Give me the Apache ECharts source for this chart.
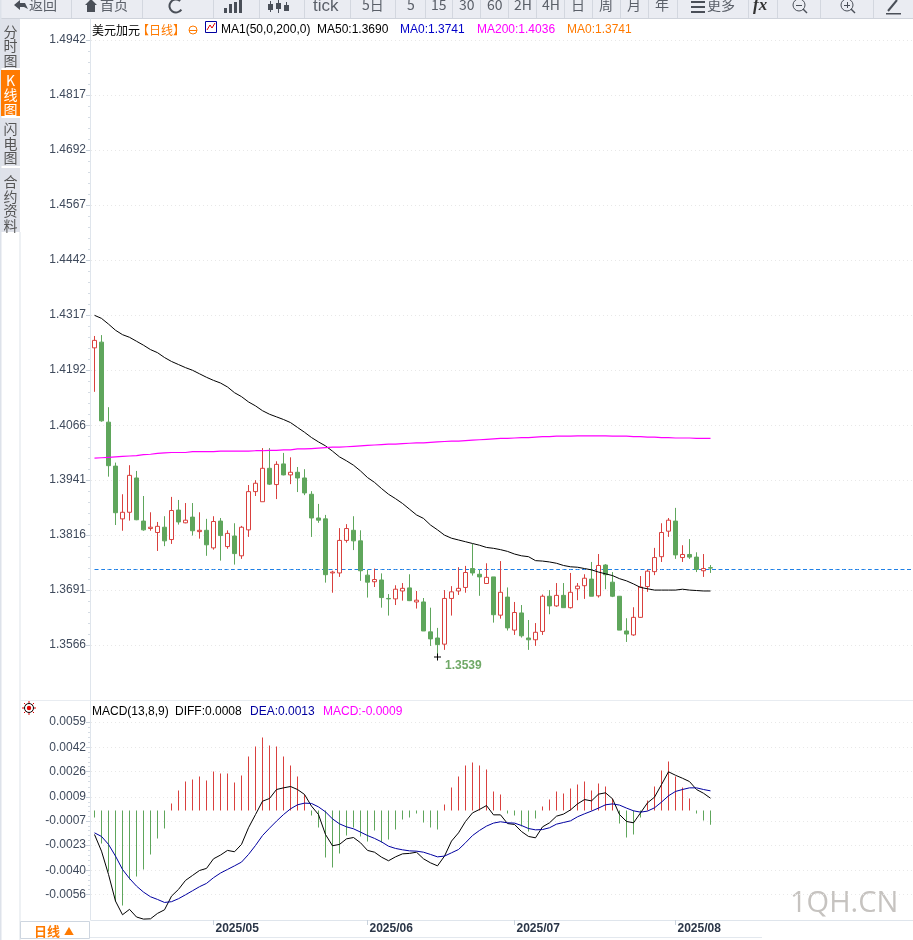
<!DOCTYPE html>
<html>
<head>
<meta charset="utf-8">
<style>
  html, body { margin: 0; padding: 0; background: #fff; overflow: hidden; }
  /* a bit wider than the window: the last empty bands run off the right edge */
  #chart { width: 920px; height: 940px; }
</style>
<script src="https://cdn.jsdelivr.net/npm/echarts@6/dist/echarts.min.js"></script>
</head>
<body>
<div id="chart"></div>
<script>
const aprDays = ['08','09','10','11','14','15','16','17','18','21','22','23','24','25','28','29','30'];
const mayDays = ['01','02','05','06','07','08','09','12','13','14','15','16','19','20','21','22','23','26','27','28','29','30'];
const junDays = ['02','03','04','05','06','09','10','11','12','13','16','17','18','19','20','23','24','25','26','27','30'];
const julDays = ['01','02','03','04','07','08','09','10','11','14','15','16','17','18','21','22','23','24','25','28','29','30','31'];
const augDays = ['01','04','05','06','07','08'];

// open, close, low, high
const kline = [
  [1.4242,1.4259,1.4142,1.4269],[1.4255,1.4076,1.4074,1.4271],[1.4073,1.3974,1.3949,1.4107],[1.3973,1.3867,1.3839,1.3981],
  [1.3853,1.3868,1.3826,1.3909],[1.3868,1.3952,1.3849,1.3975],[1.3946,1.3851,1.3850,1.3962],[1.3848,1.3828,1.3826,1.3905],
  [1.3831,1.3834,1.3826,1.3868],[1.3822,1.3836,1.3780,1.3846],[1.3834,1.3803,1.3791,1.3859],[1.3806,1.3872,1.3796,1.3903],
  [1.3873,1.3846,1.3840,1.3896],[1.3844,1.3850,1.3843,1.3889],[1.3857,1.3826,1.3815,1.3889],[1.3824,1.3827,1.3808,1.3868],
  [1.3827,1.3794,1.3769,1.3853],[1.3787,1.3847,1.3783,1.3859],[1.3848,1.3815,1.3758,1.3855],[1.3790,1.3820,1.3785,1.3827],
  [1.3814,1.3774,1.3749,1.3843],[1.3769,1.3834,1.3762,1.3837],[1.3828,1.3915,1.3812,1.3930],[1.3915,1.3934,1.3905,1.3941],
  [1.3892,1.3968,1.3892,1.4014],[1.3968,1.3932,1.3930,1.4014],[1.3931,1.3977,1.3898,1.3984],[1.3978,1.3953,1.3952,1.4003],
  [1.3953,1.3959,1.3932,1.3993],[1.3959,1.3946,1.3914,1.3971],[1.3946,1.3912,1.3907,1.3966],[1.3909,1.3855,1.3812,1.3916],
  [1.3855,1.3850,1.3844,1.3887],[1.3853,1.3726,1.3708,1.3862],[1.3730,1.3732,1.3685,1.3735],[1.3730,1.3804,1.3721,1.3832],
  [1.3804,1.3831,1.3799,1.3841],[1.3827,1.3803,1.3782,1.3859],[1.3803,1.3735,1.3712,1.3827],[1.3725,1.3709,1.3674,1.3737],
  [1.3710,1.3715,1.3698,1.3740],[1.3714,1.3674,1.3651,1.3729],[1.3672,1.3671,1.3633,1.3682],[1.3671,1.3693,1.3657,1.3702],
  [1.3689,1.3695,1.3667,1.3707],[1.3696,1.3667,1.3666,1.3727],[1.3664,1.3668,1.3649,1.3689],[1.3664,1.3598,1.3598,1.3673],
  [1.3596,1.3580,1.3564,1.3651],[1.3582,1.3567,1.3539,1.3605],[1.3568,1.3672,1.3555,1.3691],[1.3672,1.3687,1.3633,1.3700],
  [1.3689,1.3695,1.3680,1.3743],[1.3697,1.3731,1.3685,1.3746],[1.3740,1.3730,1.3724,1.3796],[1.3727,1.3721,1.3678,1.3737],
  [1.3706,1.3720,1.3705,1.3752],[1.3721,1.3635,1.3617,1.3721],[1.3634,1.3686,1.3626,1.3757],[1.3675,1.3605,1.3599,1.3697],
  [1.3600,1.3640,1.3589,1.3664],[1.3639,1.3587,1.3583,1.3657],[1.3582,1.3578,1.3555,1.3623],[1.3578,1.3595,1.3564,1.3616],
  [1.3597,1.3677,1.3589,1.3681],[1.3677,1.3655,1.3636,1.3691],[1.3655,1.3679,1.3653,1.3707],[1.3679,1.3651,1.3651,1.3707],
  [1.3651,1.3686,1.3649,1.3730],[1.3694,1.3700,1.3668,1.3707],[1.3701,1.3718,1.3671,1.3727],[1.3716,1.3677,1.3677,1.3755],
  [1.3678,1.3747,1.3674,1.3773],[1.3748,1.3726,1.3693,1.3750],[1.3709,1.3677,1.3675,1.3732],[1.3677,1.3600,1.3600,1.3677],
  [1.3598,1.3591,1.3573,1.3627],[1.3589,1.3629,1.3587,1.3652],[1.3629,1.3698,1.3628,1.3723],[1.3699,1.3734,1.3687,1.3738],
  [1.3733,1.3765,1.3725,1.3787],[1.3767,1.3822,1.3755,1.3843],[1.3825,1.3850,1.3812,1.3855],[1.3848,1.3771,1.3762,1.3878],
  [1.3765,1.3772,1.3755,1.3793],[1.3772,1.3766,1.3762,1.3807],[1.3766,1.3738,1.3732,1.3777],[1.3735,1.3740,1.3721,1.3773],
  [1.3742,1.3741,1.3730,1.3748]
];

const ma50 = [
  1.4316,1.4309,1.4296,1.4282,1.4272,1.4266,1.4257,1.4248,1.4238,1.4231,1.4220,1.4211,1.4204,1.4197,1.4191,1.4183,1.4175,1.4168,
  1.4162,1.4153,1.4140,1.4131,1.4119,1.4110,1.4099,1.4091,1.4085,1.4079,1.4072,1.4061,1.4050,1.4038,1.4028,1.4019,1.4007,1.3994,
  1.3985,1.3975,1.3962,1.3947,1.3936,1.3922,1.3909,1.3899,1.3888,1.3875,1.3862,1.3854,1.3839,1.3828,1.3816,1.3809,1.3805,1.3801,
  1.3797,1.3793,1.3788,1.3786,1.3783,1.3779,1.3773,1.3769,1.3767,1.3758,1.3757,1.3755,1.3752,1.3747,1.3744,1.3743,1.3740,1.3737,
  1.3732,1.3728,1.3724,1.3717,1.3712,1.3705,1.3697,1.3694,1.3691,1.3691,1.3691,1.3691,1.3693,1.3691,1.3690,1.3689,1.3689
];

const ma200 = [
  1.3991,1.3992,1.3993,1.3994,1.3995,1.3996,1.3997,1.3999,1.4000,1.4002,1.4003,1.4004,1.4004,1.4004,1.4006,1.4006,1.4006,1.4006,
  1.4007,1.4007,1.4007,1.4007,1.4007,1.4008,1.4008,1.4009,1.4009,1.4010,1.4010,1.4012,1.4012,1.4013,1.4014,1.4015,1.4016,1.4016,
  1.4017,1.4018,1.4019,1.4020,1.4021,1.4022,1.4023,1.4023,1.4024,1.4025,1.4026,1.4026,1.4027,1.4028,1.4029,1.4030,1.4030,1.4031,
  1.4032,1.4033,1.4034,1.4035,1.4036,1.4036,1.4037,1.4038,1.4038,1.4039,1.4040,1.4040,1.4041,1.4041,1.4041,1.4042,1.4042,1.4042,
  1.4042,1.4042,1.4041,1.4041,1.4041,1.4040,1.4040,1.4039,1.4039,1.4038,1.4038,1.4037,1.4037,1.4037,1.4036,1.4036,1.4036
];

const macdBars = [
  -0.00047,-0.00220,-0.00406,-0.00606,-0.00633,-0.00460,-0.00440,-0.00393,-0.00293,-0.00186,-0.00120,0.00047,0.00133,0.00193,0.00206,
  0.00226,0.00200,0.00260,0.00246,0.00246,0.00186,0.00233,0.00360,0.00426,0.00486,0.00433,0.00426,0.00360,0.00300,0.00226,0.00107,
  -0.00033,-0.00113,-0.00313,-0.00380,-0.00286,-0.00167,-0.00113,-0.00173,-0.00206,-0.00133,-0.00213,-0.00193,-0.00127,-0.00060,-0.00047,
  -0.00020,-0.00080,-0.00113,-0.00127,0.00040,0.00153,0.00226,0.00300,0.00320,0.00300,0.00273,0.00127,0.00107,-0.00020,-0.00033,-0.00107,
  -0.00140,-0.00053,0.00027,0.00073,0.00127,0.00113,0.00147,0.00173,0.00193,0.00133,0.00180,0.00160,0.00080,-0.00087,-0.00180,-0.00160,
  -0.00047,0.00067,0.00160,0.00266,0.00326,0.00226,0.00153,0.00080,-0.00020,-0.00067,-0.00095
];

const diff = [
  -0.00160,-0.00271,-0.00426,-0.00604,-0.00695,-0.00659,-0.00710,-0.00724,-0.00722,-0.00686,-0.00662,-0.00571,-0.00526,-0.00466,-0.00433,
  -0.00400,-0.00386,-0.00322,-0.00297,-0.00266,-0.00275,-0.00226,-0.00115,-0.00027,0.00062,0.00080,0.00140,0.00151,0.00160,0.00140,0.00107,
  0.00029,-0.00027,-0.00160,-0.00235,-0.00226,-0.00189,-0.00180,-0.00215,-0.00266,-0.00278,-0.00311,-0.00335,-0.00309,-0.00289,-0.00286,
  -0.00278,-0.00322,-0.00349,-0.00369,-0.00304,-0.00204,-0.00149,-0.00073,-0.00016,0.00007,0.00033,-0.00029,-0.00029,-0.00087,-0.00093,
  -0.00140,-0.00173,-0.00182,-0.00109,-0.00082,-0.00038,-0.00024,0.00004,0.00044,0.00073,0.00064,0.00109,0.00118,0.00078,-0.00027,-0.00073,
  -0.00082,-0.00016,0.00051,0.00089,0.00173,0.00258,0.00235,0.00215,0.00193,0.00140,0.00115,0.00082
];

const dea = [
  -0.00149,-0.00173,-0.00226,-0.00304,-0.00393,-0.00453,-0.00504,-0.00544,-0.00575,-0.00593,-0.00613,-0.00608,-0.00588,-0.00562,-0.00535,
  -0.00508,-0.00486,-0.00448,-0.00417,-0.00393,-0.00369,-0.00344,-0.00293,-0.00233,-0.00167,-0.00118,-0.00071,-0.00027,0.00011,0.00038,0.00049,
  0.00047,0.00024,-0.00009,-0.00056,-0.00089,-0.00109,-0.00122,-0.00144,-0.00167,-0.00186,-0.00209,-0.00238,-0.00253,-0.00262,-0.00269,
  -0.00271,-0.00278,-0.00293,-0.00309,-0.00304,-0.00282,-0.00260,-0.00215,-0.00167,-0.00133,-0.00104,-0.00084,-0.00075,-0.00082,-0.00084,
  -0.00100,-0.00120,-0.00129,-0.00127,-0.00115,-0.00091,-0.00080,-0.00069,-0.00042,-0.00022,-0.00004,0.00016,0.00038,0.00044,0.00036,0.00016,
  -0.00002,-0.00011,-0.00004,0.00018,0.00056,0.00098,0.00127,0.00140,0.00151,0.00151,0.00140,0.00131
];

const priceTicks = [1.3566,1.3691,1.3816,1.3941,1.4066,1.4192,1.4317,1.4442,1.4567,1.4692,1.4817,1.4942];
const macdTicks = [-0.0056,-0.0040,-0.0023,-0.0007,0.0009,0.0026,0.0042,0.0059];
const monthStarts = [17, 39, 60, 83];
const lastLine = 1.37378;
const lowPoint = 1.3539;
const lowIndex = 49;

const RED = '#d9403e';
const GREEN = '#5fa65c';
const GRID_LINE = '#e8e8e8';
const AXIS_LINE = '#dfe5ec';
const TEXT = '#3f4a5c';
const ORANGE = '#ff7a00';
const FONT = '"Liberation Sans", "Noto Sans CJK SC", sans-serif';
const CJK = '"Noto Sans CJK SC", sans-serif';

const dates = [
  ...aprDays.map(d => '2025/04/' + d),
  ...mayDays.map(d => '2025/05/' + d),
  ...junDays.map(d => '2025/06/' + d),
  ...julDays.map(d => '2025/07/' + d),
  ...augDays.map(d => '2025/08/' + d)
];
// empty room right of the last candle
const categories = dates.concat(Array(29).fill(''));

function minorTicks(ticks, parts) {
  const out = [];
  for (let i = 0; i < ticks.length - 1; i++) {
    for (let k = 1; k < parts; k++) out.push(ticks[i] + (ticks[i + 1] - ticks[i]) * k / parts);
  }
  return out;
}

function valueAxes(gridIndex, min, max, ticks) {
  const base = { type: 'value', gridIndex, min, max, position: 'left', offset: 1, scale: true };
  return [
    {
      ...base,
      axisLine: { show: true, lineStyle: { color: AXIS_LINE } },
      axisTick: { show: true, length: 4, customValues: ticks, lineStyle: { color: '#c9d2dc' } },
      axisLabel: {
        customValues: ticks, margin: 4, color: TEXT, fontFamily: FONT, fontSize: 12, padding: [3, 0, 0, 0],
        formatter: v => v.toFixed(4), showMinLabel: true, showMaxLabel: true
      },
      splitLine: { show: true, customValues: ticks, lineStyle: { type: [1, 3], color: GRID_LINE, width: 1 } }
    },
    {
      ...base,
      axisLine: { show: false },
      axisTick: { show: true, length: 2, customValues: minorTicks(ticks, 5), lineStyle: { color: '#d5dce4' } },
      axisLabel: { show: false },
      splitLine: { show: false }
    }
  ];
}

function xAxisFor(gridIndex, withLabels) {
  return {
    type: 'category', gridIndex, data: categories, boundaryGap: true,
    axisLine: { show: withLabels, onZero: false, lineStyle: { color: AXIS_LINE } },
    axisTick: {
      show: withLabels, length: 5, alignWithLabel: true,
      interval: i => monthStarts.includes(i), lineStyle: { color: '#c9d2dc' }
    },
    axisLabel: {
      show: withLabels, interval: i => monthStarts.includes(i), align: 'left', margin: 3,
      padding: [0, 0, 0, 2], color: '#2b3648', fontFamily: FONT, fontSize: 12, fontWeight: 'bold',
      formatter: v => v.slice(0, 7)
    },
    splitLine: { show: false }
  };
}

function txt(x, y, text, fill, extra) {
  return {
    type: 'text', x, y, silent: true,
    style: { text, fill, font: '12px ' + FONT, textVerticalAlign: 'middle', ...extra }
  };
}

function box(x, y, width, height, fill, stroke) {
  return {
    type: 'rect', silent: true,
    shape: { x, y, width, height },
    style: { fill, stroke: stroke || null, lineWidth: 1 }
  };
}

function stroke(points, color, width) {
  return { type: 'polyline', silent: true, shape: { points }, style: { stroke: color, fill: null, lineWidth: width || 1 } };
}

const BTN_TEXT = '#5a5f68';
const ICON = '#4a4f58';

function toolbar() {
  const els = [box(0, 0, 913, 18, '#eaecf2'), box(0, 18, 913, 1, '#cfd3db')];
  [71, 142, 213, 259, 304, 350, 395, 425, 452, 480, 508, 536, 564, 592, 620, 648, 677, 748, 777, 820, 873]
    .forEach(x => els.push(box(x, 0, 1, 18, '#d3d7df')));
  const labels = [
    ['返回', 29], ['首页', 100], ['5日', 362], ['5', 407], ['15', 431], ['30', 459], ['60', 487], ['2H', 514],
    ['4H', 542], ['日', 571], ['周', 599], ['月', 627], ['年', 655], ['更多', 707]
  ];
  labels.forEach(([t, x]) => els.push(txt(x, 5, t, BTN_TEXT, { font: '14px ' + CJK })));
  els.push(txt(313, 6, 'tick', BTN_TEXT, { font: '17px ' + FONT }));
  els.push(txt(753, 6, 'fx', '#333', { font: 'italic bold 17px "Liberation Serif", serif' }));

  // back arrow and home
  els.push({ type: 'polygon', silent: true, shape: { points: [[14, 5], [20, 0], [20, 3], [25, 3], [28, 9], [24, 7], [20, 7], [20, 10]] }, style: { fill: ICON } });
  els.push({ type: 'polygon', silent: true, shape: { points: [[85, 5], [91, -1], [97, 5], [95, 5], [95, 12], [87, 12], [87, 5]] }, style: { fill: ICON } });
  // refresh
  els.push({ type: 'arc', silent: true, shape: { cx: 176, cy: 6, r: 6.5, startAngle: 0.6, endAngle: 5.4 }, style: { stroke: ICON, fill: null, lineWidth: 2 } });
  // bar chart with trend
  [[224, 8], [229, 4], [234, 2], [239, 0]].forEach(([x, y]) => els.push(box(x, y, 3, 13 - y, ICON)));
  // candlesticks
  [[270, 1, 12], [278, 0, 13], [286, 2, 11]].forEach(([x, y0, y1]) => {
    els.push(box(x, y0, 1, y1 - y0, ICON));
    els.push(box(x - 2, y0 + 3, 5, 6, ICON));
  });
  // hamburger
  [1, 6, 11].forEach(y => els.push(box(691, y, 14, 2, ICON)));
  // zoom out, zoom in
  [799, 847].forEach(cx => {
    els.push({ type: 'circle', silent: true, shape: { cx, cy: 5, r: 6 }, style: { stroke: ICON, fill: null, lineWidth: 1 } });
    els.push(box(cx - 3, 5, 6, 1, ICON));
    els.push(stroke([[cx + 4, 9], [cx + 8, 13]], ICON, 1.5));
  });
  els.push(box(847, 2, 1, 6, ICON));
  // pen
  els.push(stroke([[888, 11], [897, 0]], ICON, 2));
  els.push(box(886, 13, 15, 1.5, ICON));
  return els;
}

function sidebar() {
  const els = [box(0, 0, 1.5, 940, '#dde2ea'), box(19.5, 232, 1, 708, '#dde3ea')];
  els.push(box(1, 19, 19, 49, '#dfe2ea'));
  els.push(box(1, 70, 19, 46, ORANGE));
  els.push(box(1, 118, 19, 48, '#dfe2ea'));
  els.push(box(1, 168, 19, 64, '#dfe2ea'));
  const tab = (y, t, fill) => txt(10.5, y, t, fill, { font: '14px ' + CJK, textAlign: 'center', lineHeight: 14.5 });
  els.push(tab(46, '分\n时\n图', '#555'));
  els.push(tab(95, 'K\n线\n图', '#fff'));
  els.push(tab(143.5, '闪\n电\n图', '#555'));
  els.push(tab(203.5, '合\n约\n资\n料', '#555'));
  return els;
}

function headers() {
  const els = [
    txt(92, 30, '美元加元', '#000', { font: '12px ' + CJK }),
    txt(137, 30, '【日线】', ORANGE, { font: '12px ' + CJK }),
    { type: 'circle', silent: true, shape: { cx: 193, cy: 30, r: 4 }, style: { stroke: ORANGE, fill: null, lineWidth: 1 } },
    box(189, 30, 8, 1, ORANGE),
    box(205.5, 21.5, 11, 11, '#fff', '#0000a0'),
    stroke([[207, 30], [210, 25], [212, 28], [215, 23]], '#e00000', 1),
    txt(221, 30, 'MA1(50,0,200,0)', '#000'),
    txt(317, 30, 'MA50:1.3690', '#000'),
    txt(400, 30, 'MA0:1.3741', '#0000c8'),
    txt(477, 30, 'MA200:1.4036', '#ff00ff'),
    txt(567, 30, 'MA0:1.3741', ORANGE),
    txt(92, 712, 'MACD(13,8,9)', '#000'),
    txt(175, 712, 'DIFF:0.0008', '#000'),
    txt(250, 712, 'DEA:0.0013', '#0000a0'),
    txt(323, 712, 'MACD:-0.0009', '#ff00ff')
  ];
  // small sun switch left of the MACD title
  els.push({ type: 'circle', silent: true, shape: { cx: 29, cy: 708, r: 4.5 }, style: { stroke: '#000', fill: '#fff', lineWidth: 1 } });
  els.push({ type: 'circle', silent: true, shape: { cx: 29, cy: 708, r: 2.2 }, style: { fill: '#e00000' } });
  [[22, 708, 24, 708], [34, 708, 36, 708], [29, 701, 29, 703], [29, 713, 29, 715], [24, 703, 25.5, 704.5], [32.5, 711.5, 34, 713], [24, 713, 25.5, 711.5], [32.5, 704.5, 34, 703]]
    .forEach(([a, b, c, d]) => els.push(stroke([[a, b], [c, d]], '#e00000', 1)));
  return els;
}

function chrome() {
  return [
    box(20, 700, 893, 1, '#e8ecf1'),
    box(90, 937, 672, 1, '#e3e8ee'),
    box(20.5, 921.5, 69, 17, '#fff', '#ced6e0'),
    txt(34, 931, '日线', ORANGE, { font: 'bold 13px ' + CJK }),
    txt(64, 931, '▲', ORANGE, { font: '10px ' + CJK }),
    txt(790, 904, '1QH.CN', '#c6c3c0', { font: '29px "Open Sans", sans-serif' })
  ];
}

const option = {
  animation: false,
  backgroundColor: '#fff',
  grid: [
    { left: 91, top: 19, width: 826, height: 681 },
    { left: 91, top: 701, width: 826, height: 219 }
  ],
  xAxis: [xAxisFor(0, false), xAxisFor(1, true)],
  yAxis: [...valueAxes(0, 1.3441, 1.4990, priceTicks), ...valueAxes(1, -0.0073, 0.0073, macdTicks)],
  series: [
    {
      name: 'last', type: 'line', xAxisIndex: 0, yAxisIndex: 0, z: 1,
      data: categories.map(() => lastLine), showSymbol: false, silent: true,
      lineStyle: { type: [4, 2.5], color: '#1f80e6', width: 1 }
    },
    {
      name: 'K', type: 'candlestick', xAxisIndex: 0, yAxisIndex: 0, data: kline, barWidth: 5,
      itemStyle: { color: '#fff', color0: GREEN, borderColor: RED, borderColor0: GREEN, borderWidth: 1 },
      markPoint: {
        silent: true, animation: false,
        data: [{
          coord: [dates[lowIndex], lowPoint], value: lowPoint,
          symbol: 'path://M0 3H7V4H0Z M3 0H4V7H3Z', symbolSize: [7, 7], itemStyle: { color: '#000' },
          label: {
            show: true, position: 'right', offset: [-1, 9], color: '#6fa866', fontFamily: FONT,
            fontSize: 12, fontWeight: 'bold', formatter: lowPoint.toFixed(4)
          }
        }]
      }
    },
    { name: 'MA50', type: 'line', xAxisIndex: 0, yAxisIndex: 0, data: ma50, showSymbol: false, lineStyle: { color: '#000', width: 1 }, z: 4 },
    { name: 'MA200', type: 'line', xAxisIndex: 0, yAxisIndex: 0, data: ma200, showSymbol: false, lineStyle: { color: '#ff00ff', width: 1.2 }, z: 4 },
    {
      name: 'MACD', type: 'bar', xAxisIndex: 1, yAxisIndex: 2, data: macdBars, barWidth: 1,
      itemStyle: { color: p => (p.value >= 0 ? RED : GREEN) }
    },
    { name: 'DIFF', type: 'line', xAxisIndex: 1, yAxisIndex: 2, data: diff, showSymbol: false, lineStyle: { color: '#000', width: 1 }, z: 4 },
    { name: 'DEA', type: 'line', xAxisIndex: 1, yAxisIndex: 2, data: dea, showSymbol: false, lineStyle: { color: '#0000a0', width: 1 }, z: 4 }
  ],
  graphic: { elements: [...toolbar(), ...sidebar(), ...headers(), ...chrome()] }
};

const chart = echarts.init(document.getElementById('chart'), null, { renderer: 'canvas' });
chart.setOption(option);
</script>
</body>
</html>
